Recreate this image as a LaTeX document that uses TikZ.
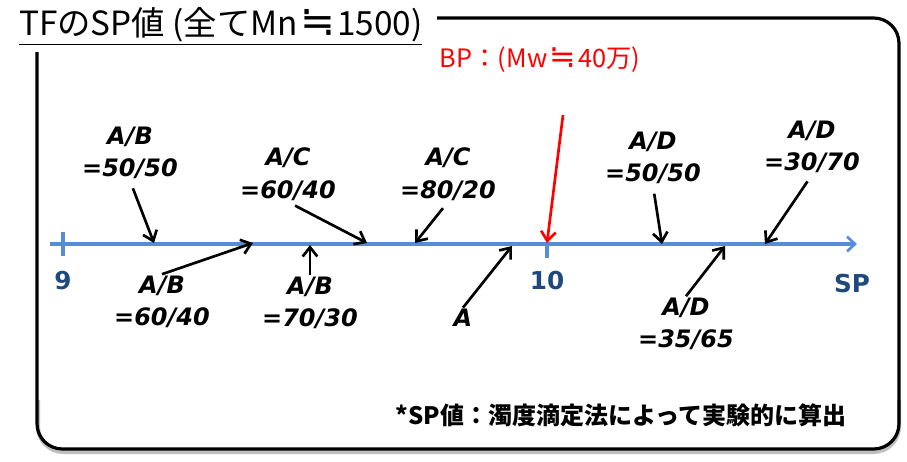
\documentclass[tikz,border=0pt]{standalone}
\usepackage{fontspec}
\setmainfont{DejaVu Sans}
\newfontfamily\jpfont{Noto Sans CJK JP}
\newcommand\kinji{{\rmfamily\mdseries\upshape\kern1.5pt\scalebox{1.25}{≒}\kern1.5pt}}
\usepackage{xcolor}
\usetikzlibrary{positioning, arrows.meta}
\definecolor{axisblue}{RGB}{85,142,213}
\definecolor{numblue}{RGB}{31,73,125}

\begin{document}
\begin{tikzpicture}[x=0.75pt, y=-0.75pt,
  ratio/.style={font=\fontsize{18}{24.5}\selectfont\bfseries\itshape, align=center, inner sep=1pt},
  ticklabel/.style={font=\fontsize{18.5}{20}\selectfont\bfseries, text=numblue, inner sep=0pt},
  pointer/.style={line width=2pt, -{Straight Barb[length=7pt, width=11pt, line width=2pt]}},
  frombelow/.style={pointer, shorten <=6pt},
  axis/.style={draw=axisblue, line width=2.3pt},
  frame/.style={line width=2.4pt, rounded corners=19pt}]

  \useasboundingbox (0,0) rectangle (907,461);

  % frame round the picture
  \draw[black!25, line width=3pt, rounded corners=19pt] (38,400) -- (38,452) -- (899,452) -- (899,400);
  \draw[frame] (37,52) -- (37,449) -- (899,449) -- (899,18) -- (437,18);

  % title
  \node[anchor=west, inner sep=0pt, font=\jpfont\fontsize{25}{28}\selectfont] (title) at (19,26)
    {\underline{TFのSP値 (全てMn\kinji1500)}};

  % SP axis
  \coordinate (axstart) at (50,244);
  \coordinate (axend) at (857,244);
  \draw[axis, -{Straight Barb[length=6pt, width=11pt, line width=2pt]}] (axstart) -- (axend);
  \draw[axis] (63,232) -- (63,256);
  \draw[axis] (547,244) -- (547,258);
  \node[ticklabel] (nine) at (63,281) {9};
  \node[ticklabel] (ten) at (547,281) {10};
  \node[ticklabel] (sp) at (852,284) {SP};

  % points on the axis
  \coordinate (pab50) at (154,243);
  \coordinate (pab60) at (253,243);
  \coordinate (pab70) at (310,245);
  \coordinate (pac60) at (367,243);
  \coordinate (pac80) at (415,243);
  \coordinate (pa) at (512,246);
  \coordinate (pbp) at (547,243);
  \coordinate (pad50) at (662,244);
  \coordinate (pad35) at (725,246);
  \coordinate (pad30) at (765,244);

  % blend labels
  \node[ratio] (ab50) at (130,153) {A/B\\=50/50};
  \node[ratio] (ab60) at (162,302) {A/B\\=60/40};
  \node[ratio] (ac60) at (288,174) {A/C\\=60/40};
  \node[ratio] (ab70) at (310,303) {A/B\\=70/30};
  \node[ratio] (ac80) at (448,174) {A/C\\=80/20};
  \node[ratio] (a) at (463,318) {A};
  \node[ratio] (ad50) at (653,158) {A/D\\=50/50};
  \node[ratio] (ad30) at (812,147) {A/D\\=30/70};
  \node[ratio] (ad35) at (686,324) {A/D\\=35/65};

  \draw[frombelow] (ab50.south) -- (pab50);
  \draw[pointer] (ab60.north) -- (pab60);
  \draw[frombelow] (ac60.south) -- (pac60);
  \draw[pointer] (ab70.north) -- (pab70);
  \draw[frombelow] (ac80.south) -- (pac80);
  \draw[pointer] (a.north) -- (pa);
  \draw[frombelow] (ad50.south) -- (pad50);
  \draw[frombelow] (ad30.south) -- (pad30);
  \draw[pointer] (ad35.north) -- (pad35);

  % BP marker
  \node[text=red, inner sep=0pt, font=\jpfont\fontsize{19}{22}\selectfont] (bp) at (540,60) {BP：(Mw\kinji40万)};
  \coordinate (bptop) at (563,115);
  \draw[pointer, red] (bptop) -- (pbp);

  % note
  \node[inner sep=0pt, font=\jpfont\bfseries\fontsize{18}{20}\selectfont] (note) at (621,415)
    {*SP値：濁度滴定法によって実験的に算出};
\end{tikzpicture}
\end{document}
